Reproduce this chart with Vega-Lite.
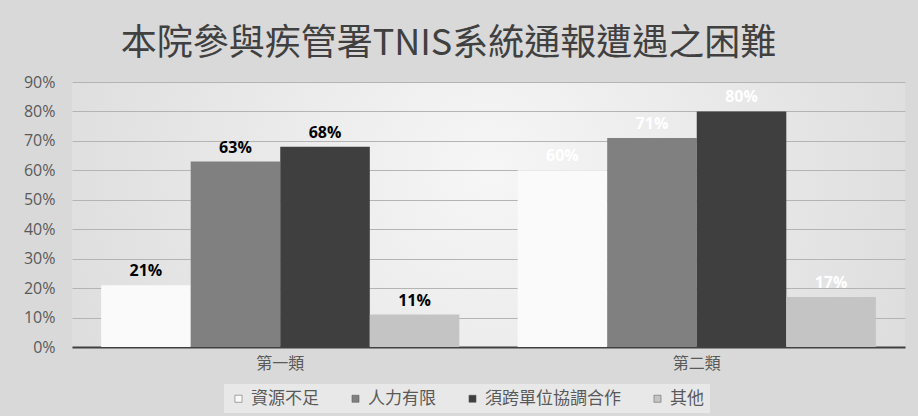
{
  "$schema": "https://vega.github.io/schema/vega-lite/v6.json",
  "width": 833,
  "height": 265,
  "autosize": {"type": "none"},
  "padding": {"left": 72, "top": 82, "right": 13, "bottom": 69},
  "background": "#d9d9d9",
  "title": {
    "text": "本院參與疾管署TNIS系統通報遭遇之困難",
    "fontSize": 36,
    "font": "Noto Sans CJK TC",
    "fontWeight": "normal",
    "color": "#404040",
    "offset": 11,
    "anchor": "middle",
    "dx": -40
  },
  "view": {
    "stroke": null,
    "fill": {
      "gradient": "radial",
      "x1": 0.5, "y1": 0.45, "r1": 0,
      "x2": 0.5, "y2": 0.45, "r2": 0.75,
      "stops": [
        {"offset": 0, "color": "#f6f6f6"},
        {"offset": 1, "color": "#d4d4d4"}
      ]
    }
  },
  "data": {
    "values": [
      {"group": "第一類", "cat": "資源不足", "value": 0.21},
      {"group": "第一類", "cat": "人力有限", "value": 0.63},
      {"group": "第一類", "cat": "須跨單位協調合作", "value": 0.68},
      {"group": "第一類", "cat": "其他", "value": 0.11},
      {"group": "第二類", "cat": "資源不足", "value": 0.60},
      {"group": "第二類", "cat": "人力有限", "value": 0.71},
      {"group": "第二類", "cat": "須跨單位協調合作", "value": 0.80},
      {"group": "第二類", "cat": "其他", "value": 0.17}
    ]
  },
  "encoding": {
    "x": {
      "field": "group",
      "type": "nominal",
      "sort": ["第一類", "第二類"],
      "scale": {"paddingInner": 0.14, "paddingOuter": 0.07},
      "axis": {
        "title": null,
        "labelAngle": 0,
        "labelFontSize": 16,
        "labelColor": "#595959",
        "labelFont": "Noto Sans CJK TC",
        "ticks": false,
        "domainColor": "#404040",
        "domainWidth": 2,
        "labelPadding": 8
      }
    },
    "xOffset": {
      "field": "cat",
      "type": "nominal",
      "sort": ["資源不足", "人力有限", "須跨單位協調合作", "其他"]
    },
    "y": {
      "field": "value",
      "type": "quantitative",
      "scale": {"domain": [0, 0.9]},
      "axis": {
        "format": ".0%",
        "values": [0, 0.1, 0.2, 0.3, 0.4, 0.5, 0.6, 0.7, 0.8, 0.9],
        "title": null,
        "domain": false,
        "ticks": false,
        "labelFontSize": 16,
        "labelFont": "Open Sans",
        "labelColor": "#595959",
        "gridColor": "#b4b4b4",
        "labelPadding": 17
      }
    }
  },
  "layer": [
    {
      "mark": {"type": "bar"},
      "encoding": {
        "color": {
          "field": "cat",
          "type": "nominal",
          "sort": ["資源不足", "人力有限", "須跨單位協調合作", "其他"],
          "scale": {"range": ["#fafafa", "#808080", "#3f3f3f", "#c4c4c4"]},
          "legend": {
            "title": null,
            "orient": "none",
            "legendX": 152,
            "legendY": 302,
            "direction": "horizontal",
            "symbolType": "square",
            "symbolSize": 50,
            "symbolStrokeColor": "#555",
            "symbolStrokeWidth": 0.5,
            "labelFontSize": 17,
            "labelFont": "Noto Sans CJK TC",
            "labelColor": "#595959",
            "columnPadding": 28,
            "fillColor": "#e8e8e8",
            "padding": 6
          }
        }
      }
    },
    {
      "mark": {"type": "text", "dy": -14, "fontWeight": "bold", "fontSize": 16, "font": "Open Sans"},
      "encoding": {
        "text": {"field": "value", "type": "quantitative", "format": ".0%"},
        "color": {
          "condition": {"test": "datum.group === '第二類'", "value": "white"},
          "value": "black"
        }
      }
    }
  ]
}
